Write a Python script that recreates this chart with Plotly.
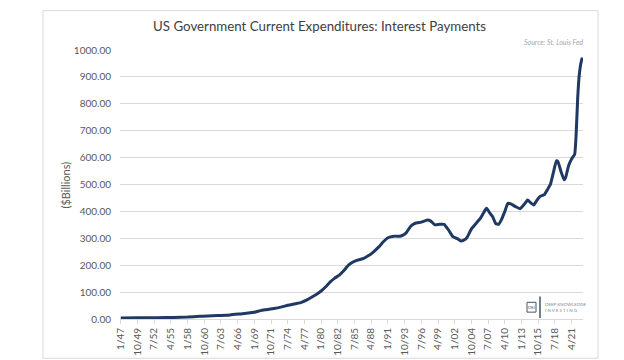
import plotly.graph_objects as go

dates = [
    "1947-01-01", "1950-01-01", "1953-01-01", "1955-10-01", "1958-01-01", "1960-01-01",
    "1961-04-01", "1963-01-01", "1965-01-01", "1966-10-01", "1968-01-01", "1969-01-01",
    "1970-01-01", "1970-10-01", "1972-04-01", "1973-07-01", "1974-07-01", "1975-10-01",
    "1976-10-01", "1977-10-01", "1978-07-01", "1979-04-01", "1980-01-01", "1980-10-01",
    "1981-07-01", "1982-04-01", "1983-01-01", "1983-10-01", "1984-07-01", "1985-04-01",
    "1986-01-01", "1987-01-01", "1987-10-01", "1988-07-01", "1989-07-01", "1990-04-01",
    "1991-01-01", "1992-01-01", "1993-01-01", "1993-07-01", "1994-01-01", "1994-10-01",
    "1995-07-01", "1996-07-01", "1997-07-01", "1998-01-01", "1998-10-01", "1999-07-01",
    "2000-04-01", "2001-01-01", "2001-10-01", "2002-07-01", "2003-01-01", "2003-07-01",
    "2004-01-01", "2004-10-01", "2005-07-01", "2006-04-01", "2007-01-01", "2007-04-01",
    "2007-10-01", "2008-04-01", "2008-10-01", "2009-04-01", "2009-10-01", "2010-04-01",
    "2010-10-01", "2011-04-01", "2012-01-01", "2012-10-01", "2013-07-01", "2014-01-01",
    "2014-07-01", "2015-01-01", "2015-07-01", "2016-01-01", "2016-10-01", "2017-04-01",
    "2017-10-01", "2018-04-01", "2018-10-01", "2019-01-01", "2019-07-01", "2020-01-01",
    "2020-04-01", "2020-10-01", "2021-04-01", "2021-10-01", "2022-01-01", "2022-04-01",
    "2022-07-01", "2022-10-01", "2023-01-01",
]
interest = [
    4, 4.5, 5, 6, 7.5, 10,
    11, 13, 15, 19, 22, 25,
    31, 34, 39, 45, 51, 57,
    62, 72, 82, 92, 104, 120,
    138, 152, 163, 180, 200, 212,
    219, 225, 235, 247, 268, 287,
    302, 308, 308, 312, 320, 345,
    356, 360, 368, 365, 350, 352,
    352, 330, 305, 298, 290, 293,
    302, 335, 355, 375, 405, 412,
    395, 380, 355, 352, 372, 400,
    430, 428, 418, 410, 428, 442,
    432, 424, 440, 455, 462, 480,
    500, 545, 588, 585, 548, 518,
    525, 570, 595, 612, 690, 820,
    905, 948, 972,
]

tick_labels = ["1/47", "10/49", "7/52", "4/55", "1/58", "10/60", "7/63", "4/66", "1/69",
               "10/71", "7/74", "4/77", "1/80", "10/82", "7/85", "4/88", "1/91", "10/93",
               "7/96", "4/99", "1/02", "10/04", "7/07", "4/10", "1/13", "10/15", "7/18", "4/21"]
y_ticks = [0, 100, 200, 300, 400, 500, 600, 700, 800, 900, 1000]


def label_to_date(lbl):
    m, yy = lbl.split("/")
    yy = int(yy)
    year = 1900 + yy if yy >= 40 else 2000 + yy
    return f"{year}-{int(m):02d}-01"


tick_vals = [label_to_date(t) for t in tick_labels]

FONT = "Lato"
fig = go.Figure()
fig.add_trace(go.Scatter(
    x=dates, y=interest, mode="lines",
    line=dict(color="#1f3864", width=3, shape="spline", smoothing=0.4),
    hoverinfo="skip",
))

W, H = 624, 360
L, R, T, B = 112, 49, 42, 44
pw, ph = W - L - R, H - T - B


def px(xp):
    return (xp - L) / pw


def py(yp):
    return (H - B - yp) / ph


fig.update_layout(
    width=W, height=H,
    margin=dict(l=L, r=R, t=T, b=B),
    paper_bgcolor="white", plot_bgcolor="white",
    showlegend=False,
    font=dict(family=FONT, color="#595959"),
    xaxis=dict(
        type="date",
        range=["1946-11-16", "2023-02-15"],
        tickvals=tick_vals, ticktext=tick_labels,
        tickangle=-90, tickfont=dict(size=10, color="#595959", family=FONT),
        showgrid=False, showline=True, linecolor="#d9d9d9", linewidth=1,
        ticks="outside", ticklen=4, tickcolor="#d9d9d9",
        zeroline=False,
    ),
    yaxis=dict(
        range=[0, 1000], tickvals=y_ticks, tickformat=".2f",
        tickfont=dict(size=10, color="#595959", family=FONT),
        showgrid=True, gridcolor="#d9d9d9", gridwidth=1,
        zeroline=False, showline=False, ticks="", ticklabelstandoff=8,
    ),
    shapes=[
        dict(type="rect", xref="paper", yref="paper",
             x0=px(35), x1=px(590), y0=py(356), y1=py(2),
             line=dict(color="#d9d9d9", width=1), fillcolor="rgba(0,0,0,0)", layer="below"),
        dict(type="rect", xref="paper", yref="paper",
             x0=px(519), x1=px(528), y0=py(309), y1=py(299),
             line=dict(color="#44546a", width=1), fillcolor="rgba(0,0,0,0)"),
        dict(type="line", xref="paper", yref="paper",
             x0=px(532), x1=px(532), y0=py(315), y1=py(293),
             line=dict(color="#44546a", width=1.5)),
    ],
    annotations=[
        dict(text="US Government Current Expenditures: Interest Payments",
             xref="paper", yref="paper", x=px(311), y=py(18),
             xanchor="center", yanchor="middle", showarrow=False,
             font=dict(size=13.3, color="#404040", family=FONT)),
        dict(text="<i>Source: St. Louis Fed</i>",
             xref="paper", yref="paper", x=px(577), y=py(34),
             xanchor="right", yanchor="middle", showarrow=False,
             font=dict(size=7, color="#a6a6a6", family=FONT)),
        dict(text="($Billions)", textangle=-90,
             xref="paper", yref="paper", x=px(57), y=py(180),
             xanchor="center", yanchor="middle", showarrow=False,
             font=dict(size=11, color="#595959", family=FONT)),
        dict(text="DKI", xref="paper", yref="paper", x=px(523.5), y=py(304),
             xanchor="center", yanchor="middle", showarrow=False,
             font=dict(size=4, color="#44546a", family=FONT)),
        dict(text="DEEP KNOWLEDGE", xref="paper", yref="paper", x=px(535), y=py(301.5),
             xanchor="left", yanchor="middle", showarrow=False,
             font=dict(size=4.5, color="#7f8a9c", family=FONT)),
        dict(text="I N V E S T I N G", xref="paper", yref="paper", x=px(535), y=py(307),
             xanchor="left", yanchor="middle", showarrow=False,
             font=dict(size=4.5, color="#7f8a9c", family=FONT)),
    ],
)

fig.write_html("out.html")
